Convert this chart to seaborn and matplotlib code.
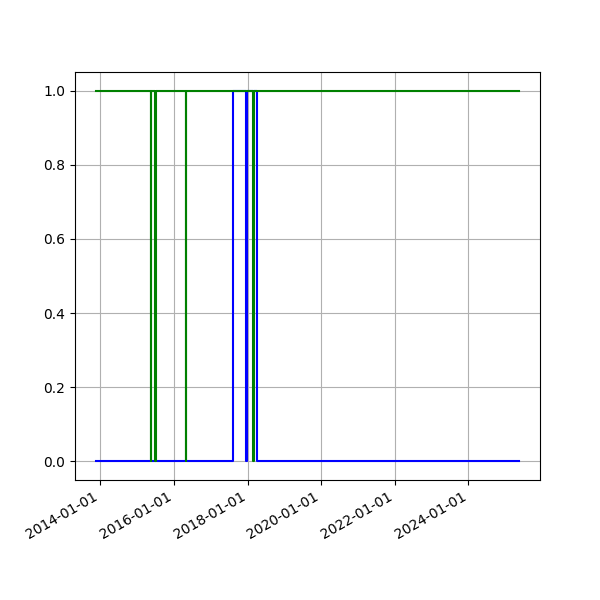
import pandas as pd
import matplotlib
matplotlib.use('Agg')
import matplotlib.pyplot as plt
import matplotlib.dates as mdates
import seaborn as sns

# change points of the two step series
blue_dates = ['2013-11-20', '2017-08-05', '2017-12-20', '2017-12-21', '2018-04-02', '2025-05-15']
blue_vals = [0, 1, 0, 1, 0, 0]

green_dates = ['2013-11-20', '2015-05-19', '2015-05-22', '2015-06-29', '2015-07-07',
               '2016-04-25', '2016-04-28', '2018-02-20', '2018-03-01', '2025-05-15']
green_vals = [1, 0, 1, 0, 1, 0, 1, 0, 1, 1]

blue = pd.DataFrame({'date': pd.to_datetime(blue_dates), 'value': blue_vals})
green = pd.DataFrame({'date': pd.to_datetime(green_dates), 'value': green_vals})

fig, ax = plt.subplots(figsize=(6, 6), dpi=100)

sns.lineplot(x='date', y='value', data=blue, ax=ax, color='blue', drawstyle='steps-post', linewidth=1.5)
sns.lineplot(x='date', y='value', data=green, ax=ax, color='green', drawstyle='steps-post', linewidth=1.5)

ax.set_xlabel('')
ax.set_ylabel('')
ax.grid(True)
ax.xaxis.set_major_locator(mdates.YearLocator(2))
ax.xaxis.set_major_formatter(mdates.DateFormatter('%Y-%m-%d'))
fig.autofmt_xdate()

plt.savefig('out.png')
